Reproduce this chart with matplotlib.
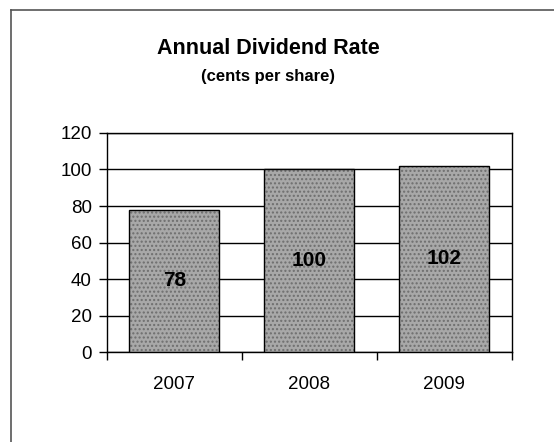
import matplotlib.pyplot as plt
from matplotlib.lines import Line2D

plt.rcParams['font.family'] = ['Liberation Sans', 'DejaVu Sans']

years = ["2007", "2008", "2009"]
rates = [78, 100, 102]
yticks = [0, 20, 40, 60, 80, 100, 120]

fig = plt.figure(figsize=(5.54, 4.42), dpi=100)
ax = fig.add_axes([0.193, 0.2036, 0.731, 0.4955])

x = list(range(len(years)))
# stippled grey fill, then black outline on top
ax.bar(x, rates, width=0.667, color="#a8a8a8", edgecolor="#6e6e6e", linewidth=0, hatch="....", zorder=3)
ax.bar(x, rates, width=0.667, fill=False, edgecolor="black", linewidth=1.0, zorder=3.5)
for xi, v in zip(x, rates):
    ax.text(xi, v / 2, str(v), ha="center", va="center", fontsize=15, fontweight="bold", zorder=4)

ax.set_xlim(-0.5, len(years) - 0.5)
ax.set_ylim(0, 120)
ax.set_yticks(yticks)
ax.set_xticks(x)
ax.set_xticklabels(years)
ax.set_xticks([-0.5, 0.5, 1.5, 2.5], minor=True)
ax.tick_params(axis="x", which="major", length=0, pad=17, labelsize=13.5)
ax.tick_params(axis="x", which="minor", length=6, width=1, direction="out")
ax.tick_params(axis="y", length=6, width=1, direction="out", labelsize=13.5, pad=5)
ax.yaxis.grid(True, color="black", linewidth=1.0, zorder=0)
ax.set_axisbelow(True)
for s in ax.spines.values():
    s.set_color("black")
    s.set_linewidth(1.0)

fig.text(0.484, 0.891, "Annual Dividend Rate", ha="center", va="center", fontsize=15.5, fontweight="bold")
fig.text(0.484, 0.826, "(cents per share)", ha="center", va="center", fontsize=12, fontweight="bold")

# outer frame (top and left edges)
fig.add_artist(Line2D([0.02, 1.0], [0.977, 0.977], color="#555555", linewidth=1.2, transform=fig.transFigure))
fig.add_artist(Line2D([0.02, 0.02], [0.0, 0.977], color="#555555", linewidth=1.2, transform=fig.transFigure))

fig.savefig("out.png", dpi=100)
